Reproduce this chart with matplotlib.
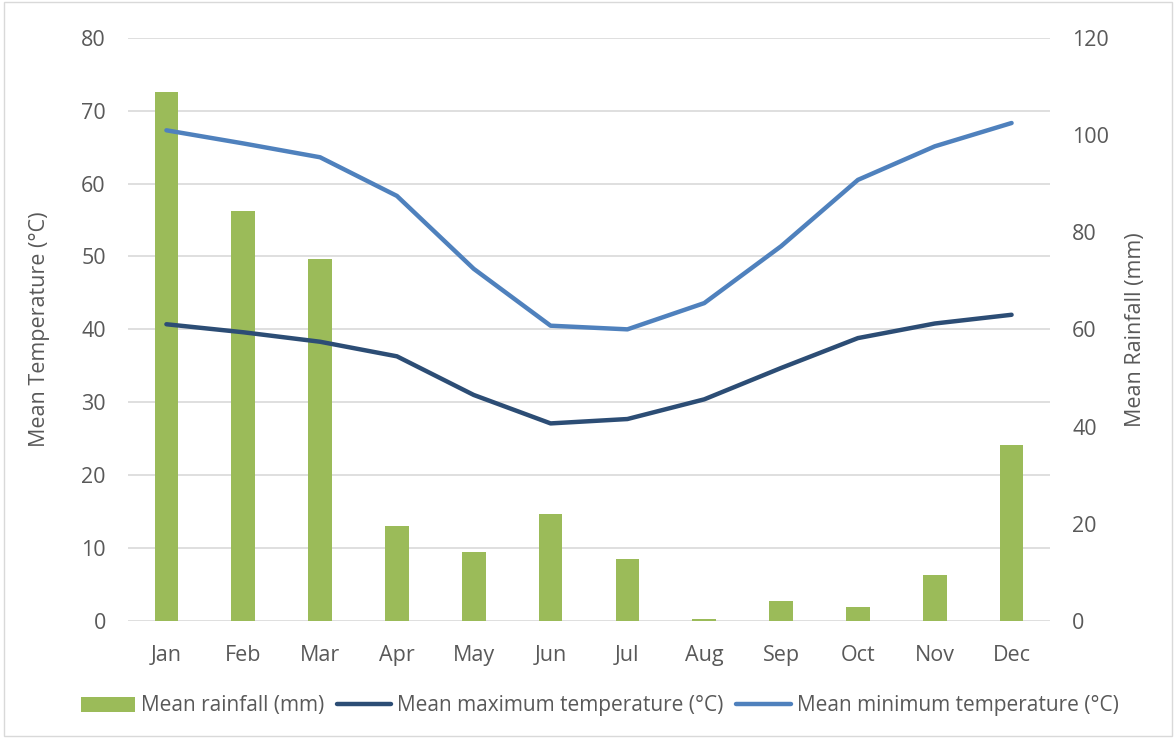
import matplotlib
matplotlib.use("Agg")
import matplotlib.pyplot as plt
from matplotlib.patches import Rectangle

months = ["Jan", "Feb", "Mar", "Apr", "May", "Jun", "Jul", "Aug", "Sep", "Oct", "Nov", "Dec"]
rainfall = [108.8, 84.4, 74.5, 19.6, 14.2, 22.0, 12.8, 0.5, 4.2, 2.8, 9.4, 36.3]
max_temp = [40.7, 39.6, 38.3, 36.3, 31.0, 27.1, 27.7, 30.4, 34.7, 38.8, 40.8, 42.0]
min_temp = [67.3, 65.5, 63.6, 58.3, 48.3, 40.5, 40.0, 43.6, 51.4, 60.5, 65.1, 68.3]
left_ticks = [0, 10, 20, 30, 40, 50, 60, 70, 80]
right_ticks = [0, 20, 40, 60, 80, 100, 120]

plt.rcParams['font.family'] = ['Open Sans', 'DejaVu Sans']
txt = "#595959"
grid = "#d9d9d9"

fig = plt.figure(figsize=(11.76, 7.38), dpi=100)
ax = fig.add_axes([128/1176, 1-621/738, (1050-128)/1176, (621-37.7)/738])
ax2 = ax.twinx()

x = list(range(len(months)))
bars = ax2.bar(x, rainfall, width=0.31, color="#9BBB59", label="Mean rainfall (mm)", zorder=2)
l1, = ax.plot(x, max_temp, color="#2C4D75", lw=3.2, solid_capstyle="round", label="Mean maximum temperature (°C)")
l2, = ax.plot(x, min_temp, color="#4F81BD", lw=3.2, solid_capstyle="round", label="Mean minimum temperature (°C)")

ax.set_zorder(ax2.get_zorder() + 1)
ax.patch.set_visible(False)

ax.set_xlim(-0.5, 11.5)
ax.set_ylim(0, 80)
ax2.set_ylim(0, 120)
ax.set_yticks(left_ticks)
ax2.set_yticks(right_ticks)
ax.set_xticks(x)
ax.set_xticklabels(months)

for a in (ax, ax2):
    for s in a.spines.values():
        s.set_visible(False)
    a.tick_params(length=0, labelsize=15.5, colors=txt)
ax.tick_params(axis='y', pad=16)
ax2.tick_params(axis='y', pad=16)
ax.tick_params(axis='x', pad=17)

for t in left_ticks:
    ax2.axhline(t * 1.5, color=grid, lw=1.2, zorder=0)

ax.set_ylabel("Mean Temperature (°C)", fontsize=15.5, color=txt, labelpad=22)
ax2.set_ylabel("Mean Rainfall (mm)", fontsize=15.5, color=txt, labelpad=11)

fig.legend(handles=[bars, l1, l2], loc="center", bbox_to_anchor=(0.51, 1-706/738), ncol=3,
           frameon=False, fontsize=15, labelcolor=txt, handlelength=2.6, handletextpad=0.3,
           columnspacing=0.6)

fig.add_artist(Rectangle((0.003, 0.003), 0.994, 0.994, transform=fig.transFigure,
                         fill=False, edgecolor=grid, lw=1))

fig.savefig("out.png", dpi=100)
